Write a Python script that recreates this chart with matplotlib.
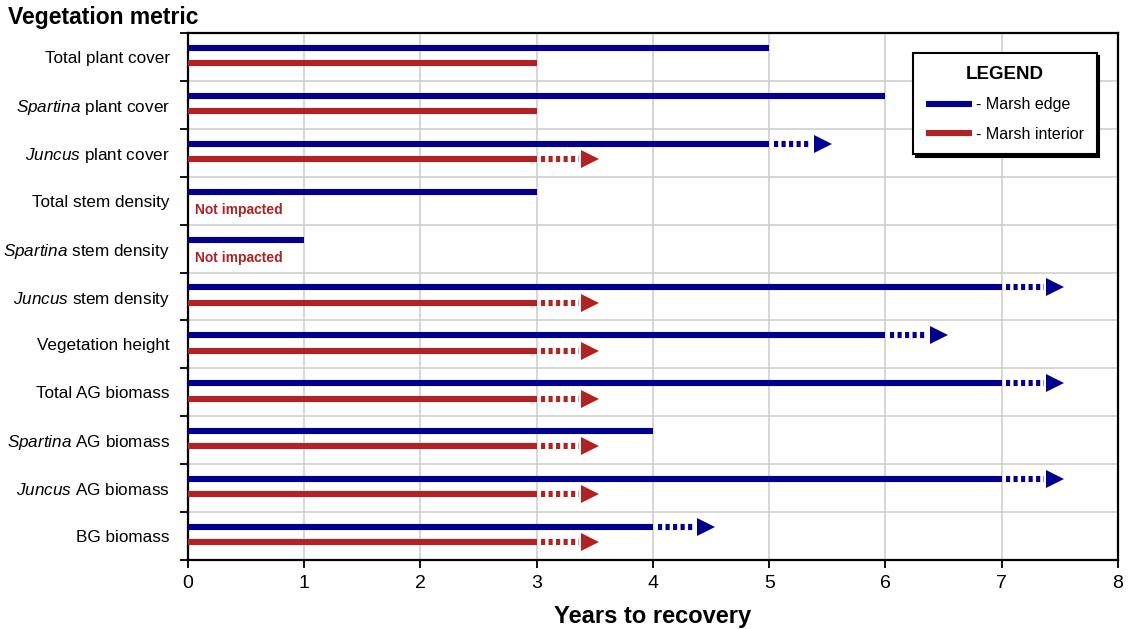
import numpy as np
import matplotlib.pyplot as plt
from matplotlib.lines import Line2D

BLUE = '#00008C'; RED = '#B22222'; GRID = '#CCCCCC'
plt.rcParams['font.family'] = ['Liberation Sans', 'DejaVu Sans']
plt.rcParams['mathtext.fontset'] = 'custom'
plt.rcParams['mathtext.rm'] = 'Liberation Sans'
plt.rcParams['mathtext.it'] = 'Liberation Sans:italic'

# ── data ────────────────────────────────────────────────────────────────────
metrics = ['Total plant cover', r'$\it{Spartina}$ plant cover', r'$\it{Juncus}$ plant cover',
           'Total stem density', r'$\it{Spartina}$ stem density', r'$\it{Juncus}$ stem density',
           'Vegetation height', 'Total AG biomass', r'$\it{Spartina}$ AG biomass',
           r'$\it{Juncus}$ AG biomass', 'BG biomass']
edge_years     = [5, 6, 5, 3, 1, 7, 6, 7, 4, 7, 4]
edge_ongoing   = [False, False, True, False, False, True, True, True, False, True, True]
inter_years    = [3, 3, 3, None, None, 3, 3, 3, 3, 3, 3]
inter_ongoing  = [False, False, True, False, False, True, True, True, True, True, True]
x_ticks = [0, 1, 2, 3, 4, 5, 6, 7, 8]

fig = plt.figure(figsize=(11.31, 6.29), dpi=100)
ax = fig.add_axes([0.1662, 0.1097, 0.8223, 0.8378])

LW = 4.4
rows = np.arange(len(metrics))

def draw(y, v, ongoing, color):
    ax.plot([0, v], [y, y], color=color, lw=LW, solid_capstyle='butt', zorder=3)
    if ongoing:
        ax.plot([v + 0.04, v + 0.36], [y, y], color=color, lw=LW,
                linestyle=(0, (0.68, 0.55)), dash_capstyle='butt', zorder=3)
        ax.plot([v + 0.46], [y], marker='>', color=color, markersize=12.5,
                markeredgewidth=0, zorder=3)

for i in rows:
    draw(i - 0.19, edge_years[i], edge_ongoing[i], BLUE)
    if inter_years[i] is None:
        ax.text(0.06, i + 0.19, 'Not impacted', color=RED, fontsize=10,
                fontweight='bold', va='center', ha='left')
    else:
        draw(i + 0.13, inter_years[i], inter_ongoing[i], RED)

ax.set_xlim(0, 8)
ax.set_ylim(len(metrics) - 0.5, -0.5)
ax.set_xticks(x_ticks)
ax.set_xticklabels([str(t) for t in x_ticks], fontsize=14)
ax.set_yticks(np.arange(-0.5, len(metrics)), labels=[''] * (len(metrics) + 1))
ax.set_yticks(rows, labels=metrics, minor=True)
ax.tick_params(axis='y', which='minor', length=0, pad=13, labelsize=12.3)
ax.tick_params(axis='y', which='major', length=6, width=1.3, direction='out')
ax.tick_params(axis='x', length=6, width=1.3, pad=5)
ax.grid(True, which='major', color=GRID, lw=1.1, zorder=0)
ax.set_axisbelow(True)
for s in ax.spines.values():
    s.set_linewidth(1.6)

ax.set_xlabel('Years to recovery', fontsize=17, fontweight='bold', labelpad=9)
fig.text(0.007, 0.972, 'Vegetation metric', fontsize=16.5, fontweight='bold',
         ha='left', va='center')

handles = [Line2D([], [], color=BLUE, lw=LW, solid_capstyle='butt'),
           Line2D([], [], color=RED, lw=LW, solid_capstyle='butt')]
leg = ax.legend(handles, ['- Marsh edge', '- Marsh interior'], title='LEGEND',
                loc='upper right', bbox_to_anchor=(0.977, 0.962), borderaxespad=0,
                fontsize=11.5,
                title_fontproperties={'weight': 'bold', 'size': 13.5},
                fancybox=False, framealpha=1, edgecolor='black',
                shadow={'color': 'black', 'alpha': 1}, handlelength=2.9,
                handletextpad=0.25, borderpad=0.8, labelspacing=0.9)
leg.get_frame().set_linewidth(1.5)

plt.savefig('out.png', dpi=100)
plt.close()
